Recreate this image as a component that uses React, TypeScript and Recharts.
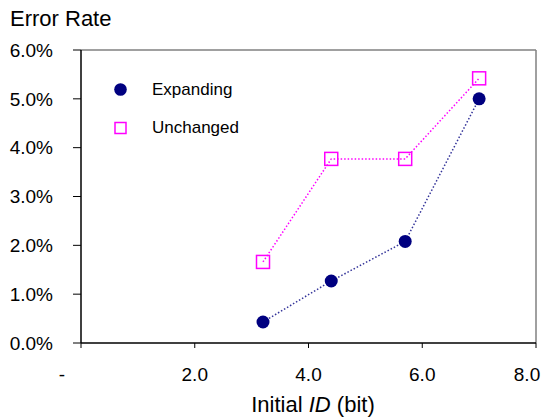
import { LineChart, Line, XAxis, YAxis, ReferenceLine } from "recharts";

const ids = [3.2, 4.4, 5.7, 7.0];
const expanding = [0.43, 1.27, 2.08, 5.0];
const unchanged = [1.66, 3.77, 3.77, 5.42];
const xTicks = [0, 2, 4, 6, 8];
const yTicks = [0, 1, 2, 3, 4, 5, 6];

const data = ids.map((id, i) => ({ id, expanding: expanding[i], unchanged: unchanged[i] }));

const FONT = "'Liberation Sans', Arial, sans-serif";

// excel puts "-" for zero and pulls the last label inside the frame
const XTick = (props: any) => {
  const { x, y, payload } = props;
  const v = payload.value as number;
  const shift = v === 0 ? -19 : v === 8 ? -9 : 0;
  return (
    <text x={x + shift} y={y} dy="0.71em" textAnchor="middle" fill="#000" fontSize={19} fontFamily={FONT}>
      {v === 0 ? "-" : v.toFixed(1)}
    </text>
  );
};

const SquareDot = (props: any) => {
  const { cx, cy, index } = props;
  return <rect key={`sq-${index}`} x={cx - 6.5} y={cy - 6.5} width={13} height={13} fill="none" stroke="#ff00ff" strokeWidth={1.5} />;
};

export default function App() {
  return (
    <div style={{ position: "absolute", left: 0, top: 0, background: "#fff" }}>
      <LineChart width={542} height={417} data={data} margin={{ top: 50, right: 6, bottom: 0, left: 0 }}>
        <XAxis
          dataKey="id"
          type="number"
          domain={[0, 8]}
          ticks={xTicks}
          height={74}
          tickSize={5}
          tickMargin={20}
          tick={<XTick />}
          axisLine={{ stroke: "#000", strokeWidth: 1.5 }}
          tickLine={{ stroke: "#000" }}
        />
        <YAxis
          type="number"
          domain={[0, 6]}
          ticks={yTicks}
          width={81}
          tickSize={8}
          tickMargin={20}
          tickFormatter={(v: number) => `${v.toFixed(1)}%`}
          tick={{ fill: "#000", fontSize: 19, fontFamily: FONT }}
          axisLine={{ stroke: "#000", strokeWidth: 1.5 }}
          tickLine={{ stroke: "#000" }}
        />
        <ReferenceLine y={6} stroke="#808080" strokeWidth={1.5} />
        <ReferenceLine x={8} stroke="#808080" strokeWidth={1.5} />
        <Line
          dataKey="unchanged"
          type="linear"
          stroke="#ff00ff"
          strokeWidth={1.5}
          strokeDasharray="1.5 2"
          dot={<SquareDot />}
          activeDot={false}
          isAnimationActive={false}
        />
        <Line
          dataKey="expanding"
          type="linear"
          stroke="#333399"
          strokeWidth={1.5}
          strokeDasharray="1.5 2"
          dot={{ r: 6.5, fill: "#000080", stroke: "none" }}
          activeDot={false}
          isAnimationActive={false}
        />
        <text x={10} y={26} fontSize={22} fontFamily={FONT} fill="#000">Error Rate</text>
        <circle cx={120.5} cy={89.5} r={6.3} fill="#000080" />
        <text x={152} y={94.5} fontSize={17} fontFamily={FONT} fill="#000">Expanding</text>
        <rect x={115} y={122.5} width={11} height={11} fill="none" stroke="#ff00ff" strokeWidth={1.5} />
        <text x={152} y={132.5} fontSize={17} fontFamily={FONT} fill="#000">Unchanged</text>
        <text x={313} y={412} textAnchor="middle" fontSize={22} fontFamily={FONT} fill="#000">
          Initial <tspan fontStyle="italic">ID</tspan> (bit)
        </text>
      </LineChart>
    </div>
  );
}
